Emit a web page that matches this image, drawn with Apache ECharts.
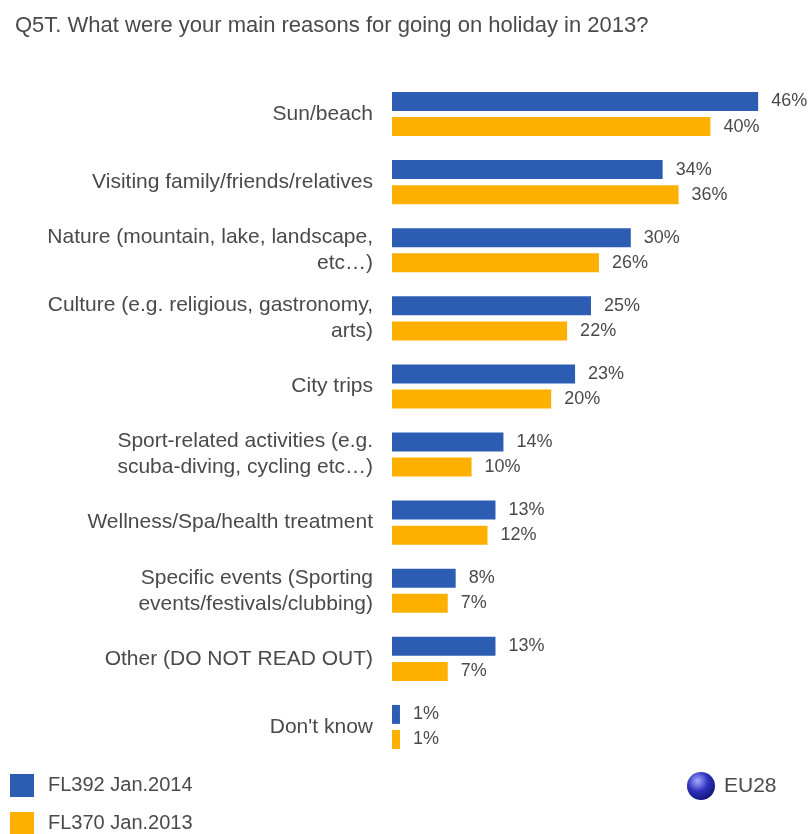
<!DOCTYPE html>
<html>
<head>
<meta charset="utf-8">
<script src="https://cdn.jsdelivr.net/npm/echarts@6/dist/echarts.min.js"></script>
<style>
  html, body { margin: 0; padding: 0; background: #ffffff; }
  #chart { width: 809px; height: 834px; }
</style>
</head>
<body>
<div id="chart"></div>
<script>
// Reasons for going on holiday, EU28, two survey waves
const categories = [
  'Sun/beach',
  'Visiting family/friends/relatives',
  'Nature (mountain, lake, landscape,\netc…)',
  'Culture (e.g. religious, gastronomy,\narts)',
  'City trips',
  'Sport-related activities (e.g.\nscuba-diving, cycling etc…)',
  'Wellness/Spa/health treatment',
  'Specific events (Sporting\nevents/festivals/clubbing)',
  'Other (DO NOT READ OUT)',
  "Don't know"
];
const fl392Jan2014 = [46, 34, 30, 25, 23, 14, 13, 8, 13, 1];
const fl370Jan2013 = [40, 36, 26, 22, 20, 10, 12, 7, 7, 1];
const seriesNames = ['FL392 Jan.2014', 'FL370 Jan.2013'];

const FONT = '"Liberation Sans", Arial, sans-serif';
const TEXT = '#4a4a4a';
const BLUE = '#2d5cb3';
const ORANGE = '#fdb000';

const chart = echarts.init(document.getElementById('chart'), null, { renderer: 'canvas' });

function barSeries(name, data, color) {
  return {
    name: name,
    type: 'bar',
    data: data,
    barWidth: 19,
    barGap: '32%',
    itemStyle: { color: color },
    label: {
      show: true,
      position: 'right',
      distance: 13,
      formatter: '{c}%',
      color: TEXT,
      fontFamily: FONT,
      fontSize: 18
    },
    silent: true
  };
}

// one legend block per survey wave, stacked at the bottom left
function legendItem(name, top) {
  return {
    left: 10,
    top: top,
    padding: 0,
    itemWidth: 24,
    itemHeight: 23,
    icon: 'rect',
    data: [name],
    textStyle: { color: TEXT, fontFamily: FONT, fontSize: 20, padding: [0, 0, 0, 9] }
  };
}

chart.setOption({
  animation: false,
  backgroundColor: '#ffffff',
  title: {
    text: 'Q5T. What were your main reasons for going on holiday in 2013?',
    left: 10,
    top: 10,
    textStyle: { color: TEXT, fontFamily: FONT, fontSize: 22, fontWeight: 'normal' }
  },
  grid: { left: 392, right: 19, top: 80, bottom: 73, containLabel: false },
  xAxis: {
    type: 'value',
    min: 0,
    max: 50,
    show: false
  },
  yAxis: {
    type: 'category',
    data: categories,
    inverse: true,
    axisLine: { show: false },
    axisTick: { show: false },
    splitLine: { show: false },
    axisLabel: {
      margin: 19,
      color: TEXT,
      fontFamily: FONT,
      fontSize: 21,
      lineHeight: 26,
      align: 'right'
    }
  },
  legend: [
    legendItem(seriesNames[0], 774),
    legendItem(seriesNames[1], 812)
  ],
  graphic: [
    {
      type: 'circle',
      shape: { cx: 701, cy: 786, r: 14 },
      style: {
        fill: new echarts.graphic.RadialGradient(0.38, 0.32, 0.75, [
          { offset: 0, color: '#a4acff' },
          { offset: 0.5, color: '#2d31bd' },
          { offset: 1, color: '#11136c' }
        ])
      }
    },
    {
      type: 'text',
      left: 724,
      top: 776,
      style: { text: 'EU28', fill: TEXT, font: '21px ' + FONT }
    }
  ],
  series: [
    barSeries(seriesNames[0], fl392Jan2014, BLUE),
    barSeries(seriesNames[1], fl370Jan2013, ORANGE)
  ]
});
</script>
</body>
</html>
